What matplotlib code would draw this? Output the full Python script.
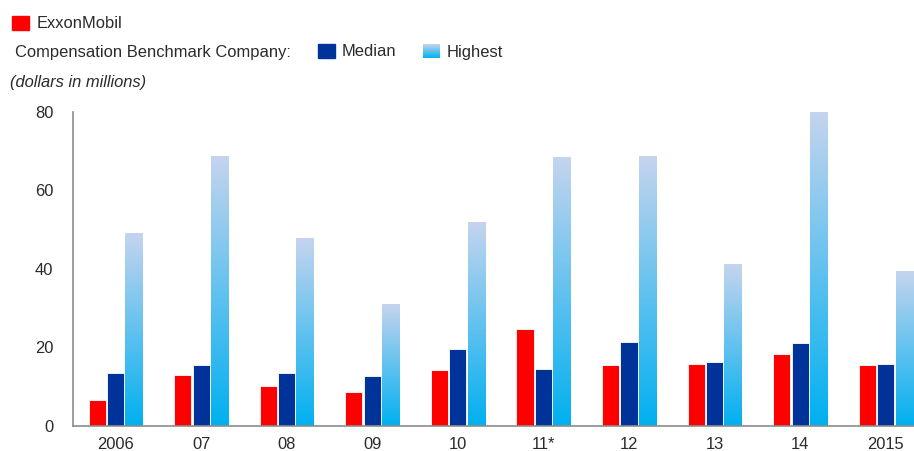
import numpy as np
import matplotlib
matplotlib.use('Agg')
import matplotlib.pyplot as plt
from matplotlib.patches import Rectangle
from matplotlib.colors import LinearSegmentedColormap

years = ['2006', '07', '08', '09', '10', '11*', '12', '13', '14', '2015']
exxon = [6.7, 12.9, 10.2, 8.6, 14.2, 24.6, 15.6, 15.8, 18.3, 15.6]
median = [13.5, 15.4, 13.5, 12.6, 19.6, 14.4, 21.5, 16.3, 21.2, 15.8]
highest = [49.1, 68.7, 47.6, 31.0, 51.9, 68.4, 68.7, 41.0, 80.1, 39.4]

W, H = 914, 451
plt.rcParams['font.family'] = ['Liberation Sans', 'DejaVu Sans']
txt = '#2b2b2b'
red = '#FF0000'
navy = '#003399'
fs = 11.9
grad = LinearSegmentedColormap.from_list('hi', ['#00B0F0', '#C5D4EE'])

fig = plt.figure(figsize=(W / 100, H / 100), dpi=100)
# axes runs past the right edge of the figure, like the original crop
ax = fig.add_axes([72.7 / W, (H - 426) / H, (928.5 - 72.7) / W, (426 - 111.7) / H])

x = np.arange(len(years))
bw = 0.2
ax.bar(x - 0.215, exxon, bw, color=red, edgecolor='white', linewidth=0.6, zorder=2)
ax.bar(x, median, bw, color=navy, edgecolor='white', linewidth=0.6, zorder=2)
hb = ax.bar(x + 0.215, highest, bw, color='none', edgecolor='none', zorder=2)
g = np.linspace(0, 1, 256).reshape(-1, 1)
for p in hb:
    x0, y0 = p.get_x(), p.get_y()
    ax.imshow(g, cmap=grad, aspect='auto', origin='lower',
              extent=[x0, x0 + p.get_width(), y0, y0 + p.get_height()], zorder=2)

ax.set_xlim(-0.5, len(years) - 0.5)
ax.set_ylim(0, 80)
ax.set_yticks([0, 20, 40, 60, 80])
ax.set_xticks(x)
ax.set_xticklabels(years)
ax.tick_params(length=0, labelsize=fs, colors=txt)
ax.tick_params(axis='x', pad=8)
ax.tick_params(axis='y', pad=14)
for s in ['top', 'right']:
    ax.spines[s].set_visible(False)
for s in ['left', 'bottom']:
    ax.spines[s].set_color('#8c8c8c')
    ax.spines[s].set_linewidth(1.2)


def fx(px):
    return px / W


def fy(py):
    return 1 - py / H


# legend drawn by hand
fig.add_artist(Rectangle((fx(12), fy(30)), 17 / W, 14 / H, color=red, transform=fig.transFigure))
fig.text(fx(37), fy(24), 'ExxonMobil', fontsize=fs, color=txt, va='center')
fig.text(fx(15), fy(52), 'Compensation Benchmark Company:', fontsize=fs, color=txt, va='center')
fig.add_artist(Rectangle((fx(318), fy(58)), 17 / W, 14 / H, color=navy, transform=fig.transFigure))
fig.text(fx(342), fy(52), 'Median', fontsize=fs, color=txt, va='center')
lax = fig.add_axes([fx(423), fy(58), 17 / W, 14 / H])
lax.imshow(g, cmap=grad, aspect='auto', origin='lower')
lax.axis('off')
fig.text(fx(447), fy(53), 'Highest', fontsize=fs, color=txt, va='center')
fig.text(fx(10), fy(82), '(dollars in millions)', fontsize=fs, color=txt, va='center', style='italic')

fig.savefig('out.png', dpi=100)
